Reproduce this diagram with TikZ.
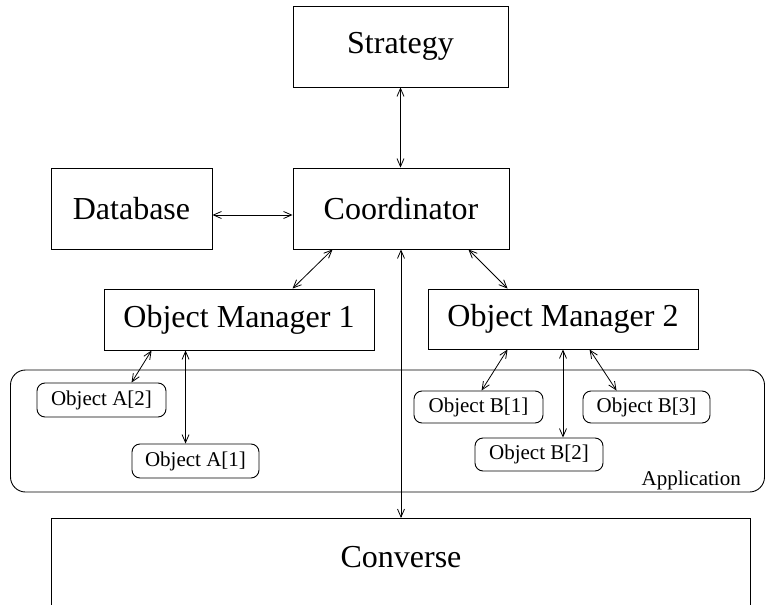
\documentclass[tikz,border=0pt]{standalone}
\usepackage{fontspec}
\setmainfont{Liberation Serif}
\usetikzlibrary{arrows.meta}
\tikzset{
  big/.style={font=\fontsize{32}{38}\selectfont},
  small/.style={font=\fontsize{21}{25}\selectfont},
  box/.style={draw, line width=0.9pt, inner sep=0pt, big},
  obj/.style={draw, line width=0.9pt, inner sep=0pt, rounded corners=8pt, small},
  conn/.style={line width=0.8pt, {Straight Barb[length=8pt,width=7pt]}-{Straight Barb[length=8pt,width=7pt]}},
  oneway/.style={line width=0.8pt, -{Straight Barb[length=8pt,width=7pt]}}
}
\begin{document}
\begin{tikzpicture}[x=1pt,y=-1pt]
\useasboundingbox (0,0) rectangle (766,605);
\node[box, minimum width=215pt, minimum height=81pt] (strat) at (400.5,46.5) {Strategy};
\node[box, minimum width=216pt, minimum height=81pt] (coord) at (401,208.5) {Coordinator};
\node[box, minimum width=161pt, minimum height=81pt] (db) at (131.5,208.5) {Database};
\node[box, minimum width=270pt, minimum height=61pt] (om1) at (239,319.5) {Object Manager 1};
\node[box, minimum width=270pt, minimum height=60pt] (om2) at (563,319) {Object Manager 2};
\node[draw, line width=0.9pt, rounded corners=15pt, minimum width=754pt, minimum height=122pt, inner sep=0pt] (app) at (387.5,431) {};
\node[small, anchor=base east, inner sep=0pt] (applbl) at (741,485) {Application};
\node[obj, minimum width=129pt, minimum height=34pt] (a2) at (101.5,400) {Object A[2]};
\node[obj, minimum width=127pt, minimum height=34pt] (a1) at (195.5,461) {Object A[1]};
\node[obj, minimum width=129pt, minimum height=32pt] (b1) at (478.5,407) {Object B[1]};
\node[obj, minimum width=127pt, minimum height=32pt] (b3) at (646.5,407) {Object B[3]};
\node[obj, minimum width=128pt, minimum height=33pt] (b2) at (539,454.5) {Object B[2]};
\begin{scope}
\clip (0,0) rectangle (766,605);
\node[draw, line width=0.9pt, inner sep=0pt, minimum width=699pt, minimum height=120pt, anchor=north] (convbox) at (400.5,518) {};
\end{scope}
\node[big, inner sep=0pt] (conv) at (401,557) {Converse};
% connectors
\draw[conn] (strat.south) -- (strat.south |- coord.north);
\draw[conn] ([yshift=-6.5pt]db.east) -- ([yshift=-6.5pt]coord.west);
\draw[conn] ([xshift=40pt]coord.south west) -- ([xshift=189pt]om1.north west);
\draw[conn] ([xshift=-41pt]coord.south east) -- ([xshift=80pt]om2.north west);
\draw[conn] (coord.south) -- (coord.south |- convbox.north);
\draw[conn] ([xshift=48pt]om1.south west) -- ([xshift=95pt]a2.north west);
\draw[conn] ([xshift=82pt]om1.south west) -- ([xshift=82pt]om1.south west |- a1.north);
\draw[conn] ([xshift=80pt]om2.south west) -- ([xshift=68pt]b1.north west);
\draw[conn] (om2.south) -- (om2.south |- b2.north);
\draw[conn] ([xshift=162pt]om2.south west) -- ([xshift=34pt]b3.north west);
\end{tikzpicture}
\end{document}
